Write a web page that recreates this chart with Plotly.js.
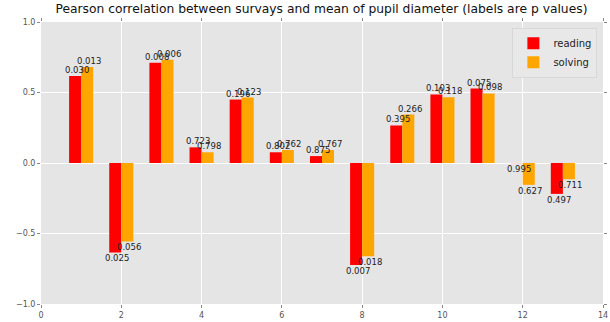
<!DOCTYPE html>
<html>
<head>
<meta charset="utf-8">
<script src="https://cdn.plot.ly/plotly-3.0.1.min.js"></script>
<style>html,body{margin:0;padding:0;background:#fff;}#chart{width:610px;height:322px;}</style>
</head>
<body>
<div id="chart"></div>
<script>
const positions = [1,2,3,4,5,6,7,8,9,10,11,12,13];
const readingR = [0.617, -0.634, 0.711, 0.111, 0.450, 0.076, 0.049, -0.723, 0.266, 0.486, 0.528, -0.001, -0.219];
const solvingR = [0.681, -0.556, 0.733, 0.076, 0.464, 0.092, 0.092, -0.662, 0.344, 0.466, 0.493, -0.155, -0.115];
const readingP = ["0.030","0.025","0.008","0.723","0.196","0.802","0.875","0.007","0.395","0.103","0.075","0.995","0.497"];
const solvingP = ["0.013","0.056","0.006","0.798","0.123","0.762","0.767","0.018","0.266","0.118","0.098","0.627","0.711"];
const xTicks = [0,2,4,6,8,10,12,14];
const yTicks = [-1.0,-0.5,0.0,0.5,1.0];

const W = 0.3;
const traces = [
  {type:'bar', name:'reading', x:positions, y:readingR, width:W, offset:-W,
   marker:{color:'#ff0000', line:{width:0}}},
  {type:'bar', name:'solving', x:positions, y:solvingR, width:W, offset:0,
   marker:{color:'#ffa500', line:{width:0}}}
];

const annotations = [];
function addLabels(vals, labels, shift){
  vals.forEach((v,i)=>{
    annotations.push({
      x: positions[i] + shift, y: v, xref:'x', yref:'y',
      text: labels[i], showarrow:false,
      yanchor: v >= 0 ? 'bottom' : 'top',
      xanchor:'center',
      font:{family:'DejaVu Sans', size:8.5, color:'#222'},
      borderpad:0
    });
  });
}
addLabels(readingR, readingP, -W/2 + 0.05);
addLabels(solvingR, solvingP, W/2 + 0.04);

const layout = {
  width:610, height:322,
  margin:{l:41, r:7, t:22, b:18},
  paper_bgcolor:'#ffffff', plot_bgcolor:'#e5e5e5',
  barmode:'overlay',
  title:{text:'Pearson correlation between survays and mean of pupil diameter (labels are p values)',
         font:{family:'DejaVu Sans', size:12.3, color:'#111'}, x:0.527, xanchor:'center', y:0.985, yanchor:'top'},
  xaxis:{range:[0,14], tickvals:xTicks, ticktext:xTicks.map(String), showgrid:true, gridcolor:'#ffffff', gridwidth:1,
         zeroline:false, ticks:'outside', ticklen:3, tickcolor:'#888', mirror:'ticks',
         tickfont:{family:'DejaVu Sans', size:8, color:'#555'}, showline:false},
  yaxis:{range:[-1,1], tickvals:yTicks, ticktext:yTicks.map(v=>v.toFixed(1).replace('-','\u2212')), showgrid:true, gridcolor:'#ffffff', gridwidth:1,
         zeroline:false, ticks:'outside', ticklen:3, tickcolor:'#888', mirror:'ticks',
         tickfont:{family:'DejaVu Sans', size:8, color:'#555'}, showline:false},
  legend:{x:0.99, y:0.98, xanchor:'right', yanchor:'top', bgcolor:'#e8e8e8', bordercolor:'#d8d8d8', borderwidth:1,
          font:{family:'DejaVu Sans', size:10, color:'#222'}, tracegroupgap:0},
  annotations: annotations,
  showlegend:true
};
Plotly.newPlot('chart', traces, layout, {displayModeBar:false, staticPlot:true});
</script>
</body>
</html>
